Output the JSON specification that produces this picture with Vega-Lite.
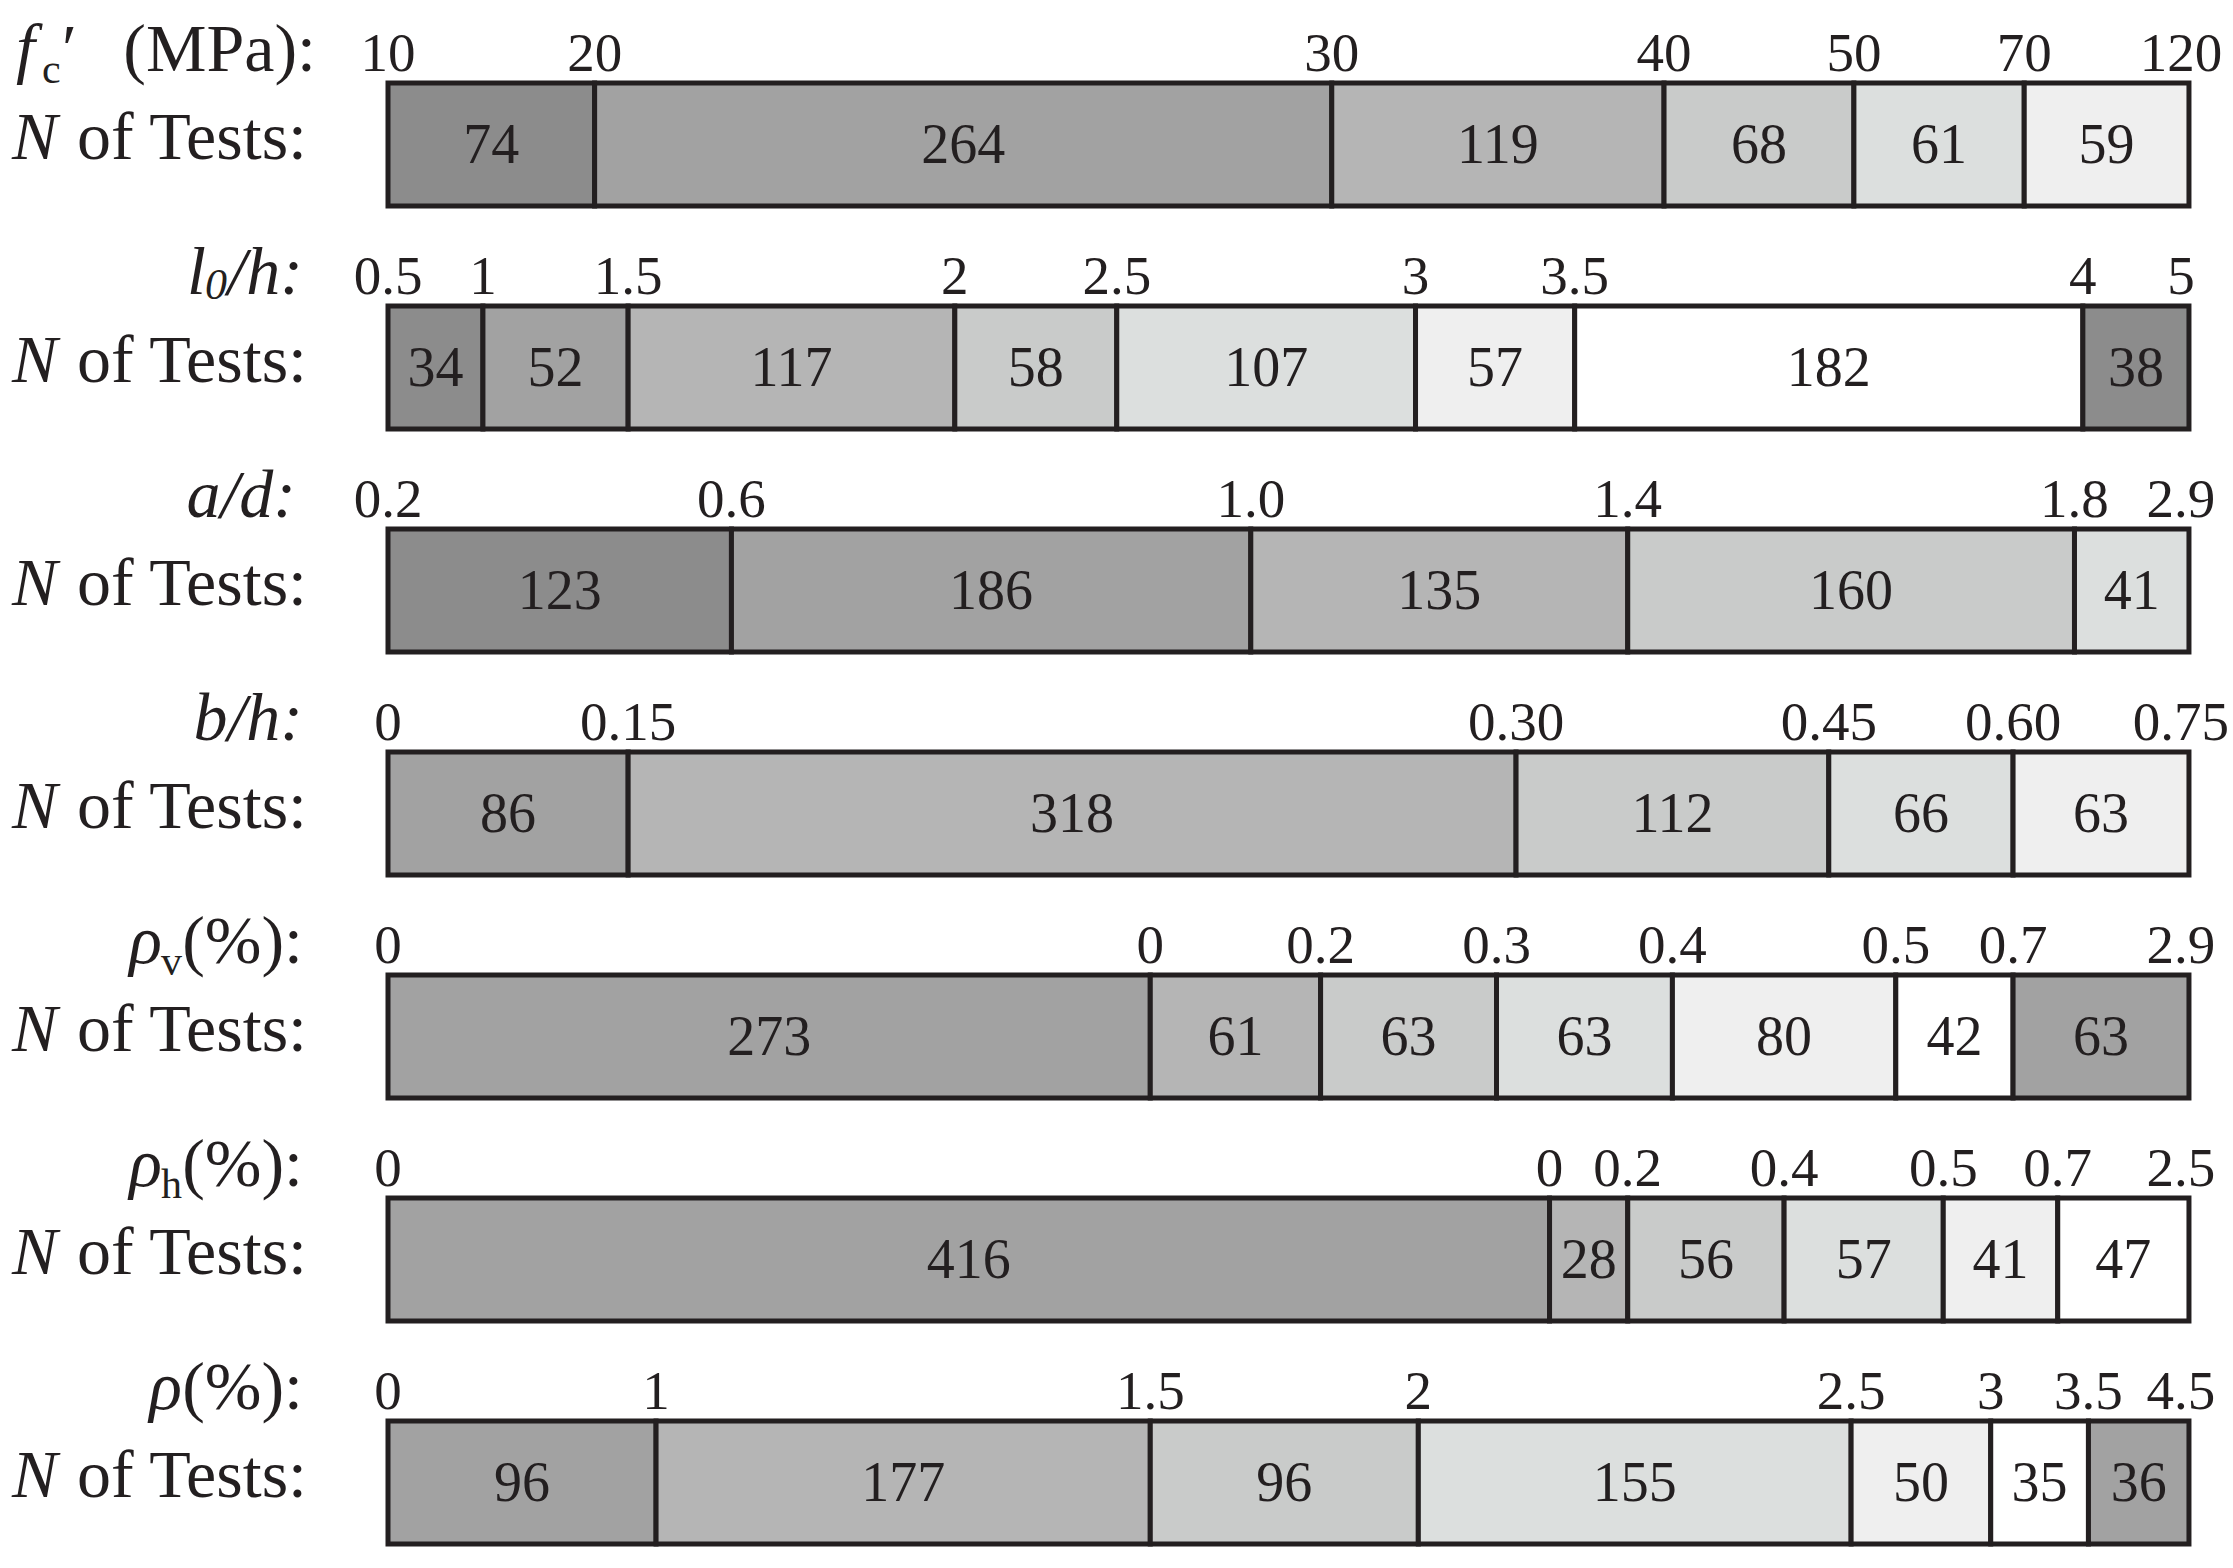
{
  "$schema": "https://vega.github.io/schema/vega-lite/v6.json",
  "width": 2233,
  "height": 1568,
  "padding": 0,
  "autosize": {"type": "none"},
  "background": "#ffffff",
  "config": {
    "view": {"stroke": null},
    "text": {"font": "Liberation Serif", "color": "#231f20"}
  },
  "datasets": {
    "seg": [
      {"row": 0, "seg": 0, "n": 74, "level": 1, "lo": "10"},
      {"row": 0, "seg": 1, "n": 264, "level": 2, "lo": "20"},
      {"row": 0, "seg": 2, "n": 119, "level": 3, "lo": "30"},
      {"row": 0, "seg": 3, "n": 68, "level": 4, "lo": "40"},
      {"row": 0, "seg": 4, "n": 61, "level": 5, "lo": "50"},
      {"row": 0, "seg": 5, "n": 59, "level": 6, "lo": "70", "hi": "120"},
      {"row": 1, "seg": 0, "n": 34, "level": 1, "lo": "0.5"},
      {"row": 1, "seg": 1, "n": 52, "level": 2, "lo": "1"},
      {"row": 1, "seg": 2, "n": 117, "level": 3, "lo": "1.5"},
      {"row": 1, "seg": 3, "n": 58, "level": 4, "lo": "2"},
      {"row": 1, "seg": 4, "n": 107, "level": 5, "lo": "2.5"},
      {"row": 1, "seg": 5, "n": 57, "level": 6, "lo": "3"},
      {"row": 1, "seg": 6, "n": 182, "level": 7, "lo": "3.5"},
      {"row": 1, "seg": 7, "n": 38, "level": 1, "lo": "4", "hi": "5"},
      {"row": 2, "seg": 0, "n": 123, "level": 1, "lo": "0.2"},
      {"row": 2, "seg": 1, "n": 186, "level": 2, "lo": "0.6"},
      {"row": 2, "seg": 2, "n": 135, "level": 3, "lo": "1.0"},
      {"row": 2, "seg": 3, "n": 160, "level": 4, "lo": "1.4"},
      {"row": 2, "seg": 4, "n": 41, "level": 5, "lo": "1.8", "hi": "2.9"},
      {"row": 3, "seg": 0, "n": 86, "level": 2, "lo": "0"},
      {"row": 3, "seg": 1, "n": 318, "level": 3, "lo": "0.15"},
      {"row": 3, "seg": 2, "n": 112, "level": 4, "lo": "0.30"},
      {"row": 3, "seg": 3, "n": 66, "level": 5, "lo": "0.45"},
      {"row": 3, "seg": 4, "n": 63, "level": 6, "lo": "0.60", "hi": "0.75"},
      {"row": 4, "seg": 0, "n": 273, "level": 2, "lo": "0"},
      {"row": 4, "seg": 1, "n": 61, "level": 3, "lo": "0"},
      {"row": 4, "seg": 2, "n": 63, "level": 4, "lo": "0.2"},
      {"row": 4, "seg": 3, "n": 63, "level": 5, "lo": "0.3"},
      {"row": 4, "seg": 4, "n": 80, "level": 6, "lo": "0.4"},
      {"row": 4, "seg": 5, "n": 42, "level": 7, "lo": "0.5"},
      {"row": 4, "seg": 6, "n": 63, "level": 2, "lo": "0.7", "hi": "2.9"},
      {"row": 5, "seg": 0, "n": 416, "level": 2, "lo": "0"},
      {"row": 5, "seg": 1, "n": 28, "level": 3, "lo": "0"},
      {"row": 5, "seg": 2, "n": 56, "level": 4, "lo": "0.2"},
      {"row": 5, "seg": 3, "n": 57, "level": 5, "lo": "0.4"},
      {"row": 5, "seg": 4, "n": 41, "level": 6, "lo": "0.5"},
      {"row": 5, "seg": 5, "n": 47, "level": 7, "lo": "0.7", "hi": "2.5"},
      {"row": 6, "seg": 0, "n": 96, "level": 2, "lo": "0"},
      {"row": 6, "seg": 1, "n": 177, "level": 3, "lo": "1"},
      {"row": 6, "seg": 2, "n": 96, "level": 4, "lo": "1.5"},
      {"row": 6, "seg": 3, "n": 155, "level": 5, "lo": "2"},
      {"row": 6, "seg": 4, "n": 50, "level": 6, "lo": "2.5"},
      {"row": 6, "seg": 5, "n": 35, "level": 7, "lo": "3"},
      {"row": 6, "seg": 6, "n": 36, "level": 2, "lo": "3.5", "hi": "4.5"}
    ],
    "lab": [
      {"row": 0, "piece": "f", "text": "f"},
      {"row": 0, "piece": "c", "text": "c"},
      {"row": 0, "piece": "prime", "text": "′"},
      {"row": 0, "piece": "mpa", "text": "(MPa):"},
      {"row": 1, "piece": "l", "text": "l"},
      {"row": 1, "piece": "zero", "text": "0"},
      {"row": 1, "piece": "ital85", "text": "/h:"},
      {"row": 2, "piece": "ital92", "text": "a/d:"},
      {"row": 3, "piece": "ital85", "text": "b/h:"},
      {"row": 4, "piece": "rhosub", "text": "ρ"},
      {"row": 4, "piece": "sub", "text": "v"},
      {"row": 4, "piece": "pct", "text": "(%):"},
      {"row": 5, "piece": "rhosub", "text": "ρ"},
      {"row": 5, "piece": "sub", "text": "h"},
      {"row": 5, "piece": "pct", "text": "(%):"},
      {"row": 6, "piece": "rho", "text": "ρ"},
      {"row": 6, "piece": "pct", "text": "(%):"}
    ],
    "ntests": [
      {"row": 0, "a": "N", "b": "of Tests:"},
      {"row": 1, "a": "N", "b": "of Tests:"},
      {"row": 2, "a": "N", "b": "of Tests:"},
      {"row": 3, "a": "N", "b": "of Tests:"},
      {"row": 4, "a": "N", "b": "of Tests:"},
      {"row": 5, "a": "N", "b": "of Tests:"},
      {"row": 6, "a": "N", "b": "of Tests:"}
    ]
  },
  "layer": [
    {
      "data": {"name": "seg"},
      "transform": [
        {"stack": "n", "groupby": ["row"], "sort": [{"field": "seg", "order": "ascending"}], "as": ["x0", "x1"]}
      ],
      "mark": {"type": "bar", "stroke": "#231f20", "strokeWidth": 5, "strokeJoin": "miter"},
      "encoding": {
        "x": {"field": "x0", "type": "quantitative", "scale": {"domain": [-138.96, 660.77], "nice": false, "zero": false}, "axis": null},
        "x2": {"field": "x1"},
        "y": {"field": "row", "type": "ordinal", "scale": {"type": "band", "domain": [0, 1, 2, 3, 4, 5, 6], "paddingInner": 0.448, "paddingOuter": 0.2397, "align": 0.776}, "axis": null},
        "color": {"field": "level", "type": "ordinal", "scale": {"domain": [1, 2, 3, 4, 5, 6, 7], "range": ["#8c8c8c", "#a2a2a2", "#b5b5b5", "#c9cbca", "#dcdfde", "#efefef", "#ffffff"]}, "legend": null}
      }
    },
    {
      "data": {"name": "seg"},
      "transform": [
        {"stack": "n", "groupby": ["row"], "sort": [{"field": "seg", "order": "ascending"}], "as": ["x0", "x1"]},
        {"calculate": "(datum.x0 + datum.x1) / 2", "as": "mid"}
      ],
      "mark": {"type": "text", "fontSize": 56, "align": "center", "baseline": "alphabetic", "dy": 18},
      "encoding": {
        "x": {"field": "mid", "type": "quantitative", "scale": {"domain": [-138.96, 660.77], "nice": false, "zero": false}, "axis": null},
        "y": {"field": "row", "type": "ordinal", "axis": null},
        "text": {"field": "n", "type": "quantitative"}
      }
    },
    {
      "data": {"name": "seg"},
      "transform": [
        {"stack": "n", "groupby": ["row"], "sort": [{"field": "seg", "order": "ascending"}], "as": ["x0", "x1"]}
      ],
      "mark": {"type": "text", "fontSize": 55, "align": "center", "baseline": "alphabetic", "dy": -12},
      "encoding": {
        "x": {"field": "x0", "type": "quantitative", "scale": {"domain": [-138.96, 660.77], "nice": false, "zero": false}, "axis": null},
        "y": {"field": "row", "type": "ordinal", "bandPosition": 0, "axis": null},
        "text": {"field": "lo", "type": "nominal"}
      }
    },
    {
      "data": {"name": "seg"},
      "transform": [
        {"stack": "n", "groupby": ["row"], "sort": [{"field": "seg", "order": "ascending"}], "as": ["x0", "x1"]},
        {"filter": "isValid(datum.hi)"}
      ],
      "mark": {"type": "text", "fontSize": 55, "align": "center", "baseline": "alphabetic", "dy": -12, "dx": -8},
      "encoding": {
        "x": {"field": "x1", "type": "quantitative", "scale": {"domain": [-138.96, 660.77], "nice": false, "zero": false}, "axis": null},
        "y": {"field": "row", "type": "ordinal", "bandPosition": 0, "axis": null},
        "text": {"field": "hi", "type": "nominal"}
      }
    },
    {
      "data": {"name": "ntests"},
      "mark": {"type": "text", "fontSize": 68, "fontStyle": "italic", "align": "left", "baseline": "alphabetic", "dx": -376, "dy": 14},
      "encoding": {
        "x": {"datum": 0, "type": "quantitative"},
        "y": {"field": "row", "type": "ordinal", "axis": null},
        "text": {"field": "a", "type": "nominal"}
      }
    },
    {
      "data": {"name": "ntests"},
      "mark": {"type": "text", "fontSize": 68, "align": "right", "baseline": "alphabetic", "dx": -81, "dy": 14},
      "encoding": {
        "x": {"datum": 0, "type": "quantitative"},
        "y": {"field": "row", "type": "ordinal", "axis": null},
        "text": {"field": "b", "type": "nominal"}
      }
    },
    {
      "data": {"name": "lab"},
      "transform": [{"filter": "datum.piece == 'f'"}],
      "mark": {"type": "text", "fontSize": 68, "fontStyle": "italic", "align": "left", "baseline": "alphabetic", "dx": -372, "dy": -12},
      "encoding": {
        "x": {"datum": 0, "type": "quantitative"},
        "y": {"field": "row", "type": "ordinal", "bandPosition": 0, "axis": null},
        "text": {"field": "text", "type": "nominal"}
      }
    },
    {
      "data": {"name": "lab"},
      "transform": [{"filter": "datum.piece == 'c'"}],
      "mark": {"type": "text", "fontSize": 42, "align": "left", "baseline": "alphabetic", "dx": -346, "dy": 0},
      "encoding": {
        "x": {"datum": 0, "type": "quantitative"},
        "y": {"field": "row", "type": "ordinal", "bandPosition": 0, "axis": null},
        "text": {"field": "text", "type": "nominal"}
      }
    },
    {
      "data": {"name": "lab"},
      "transform": [{"filter": "datum.piece == 'prime'"}],
      "mark": {"type": "text", "fontSize": 68, "align": "left", "baseline": "alphabetic", "dx": -326, "dy": -12},
      "encoding": {
        "x": {"datum": 0, "type": "quantitative"},
        "y": {"field": "row", "type": "ordinal", "bandPosition": 0, "axis": null},
        "text": {"field": "text", "type": "nominal"}
      }
    },
    {
      "data": {"name": "lab"},
      "transform": [{"filter": "datum.piece == 'mpa'"}],
      "mark": {"type": "text", "fontSize": 68, "align": "right", "baseline": "alphabetic", "dx": -72, "dy": -12},
      "encoding": {
        "x": {"datum": 0, "type": "quantitative"},
        "y": {"field": "row", "type": "ordinal", "bandPosition": 0, "axis": null},
        "text": {"field": "text", "type": "nominal"}
      }
    },
    {
      "data": {"name": "lab"},
      "transform": [{"filter": "datum.piece == 'l'"}],
      "mark": {"type": "text", "fontSize": 68, "fontStyle": "italic", "align": "right", "baseline": "alphabetic", "dx": -182, "dy": -12},
      "encoding": {
        "x": {"datum": 0, "type": "quantitative"},
        "y": {"field": "row", "type": "ordinal", "bandPosition": 0, "axis": null},
        "text": {"field": "text", "type": "nominal"}
      }
    },
    {
      "data": {"name": "lab"},
      "transform": [{"filter": "datum.piece == 'zero'"}],
      "mark": {"type": "text", "fontSize": 44, "fontStyle": "italic", "align": "right", "baseline": "alphabetic", "dx": -161, "dy": -7},
      "encoding": {
        "x": {"datum": 0, "type": "quantitative"},
        "y": {"field": "row", "type": "ordinal", "bandPosition": 0, "axis": null},
        "text": {"field": "text", "type": "nominal"}
      }
    },
    {
      "data": {"name": "lab"},
      "transform": [{"filter": "datum.piece == 'ital85'"}],
      "mark": {"type": "text", "fontSize": 68, "fontStyle": "italic", "align": "right", "baseline": "alphabetic", "dx": -85, "dy": -12},
      "encoding": {
        "x": {"datum": 0, "type": "quantitative"},
        "y": {"field": "row", "type": "ordinal", "bandPosition": 0, "axis": null},
        "text": {"field": "text", "type": "nominal"}
      }
    },
    {
      "data": {"name": "lab"},
      "transform": [{"filter": "datum.piece == 'ital92'"}],
      "mark": {"type": "text", "fontSize": 68, "fontStyle": "italic", "align": "right", "baseline": "alphabetic", "dx": -92, "dy": -12},
      "encoding": {
        "x": {"datum": 0, "type": "quantitative"},
        "y": {"field": "row", "type": "ordinal", "bandPosition": 0, "axis": null},
        "text": {"field": "text", "type": "nominal"}
      }
    },
    {
      "data": {"name": "lab"},
      "transform": [{"filter": "datum.piece == 'pct'"}],
      "mark": {"type": "text", "fontSize": 68, "align": "right", "baseline": "alphabetic", "dx": -85, "dy": -12},
      "encoding": {
        "x": {"datum": 0, "type": "quantitative"},
        "y": {"field": "row", "type": "ordinal", "bandPosition": 0, "axis": null},
        "text": {"field": "text", "type": "nominal"}
      }
    },
    {
      "data": {"name": "lab"},
      "transform": [{"filter": "datum.piece == 'sub'"}],
      "mark": {"type": "text", "fontSize": 42, "align": "right", "baseline": "alphabetic", "dx": -206, "dy": 0},
      "encoding": {
        "x": {"datum": 0, "type": "quantitative"},
        "y": {"field": "row", "type": "ordinal", "bandPosition": 0, "axis": null},
        "text": {"field": "text", "type": "nominal"}
      }
    },
    {
      "data": {"name": "lab"},
      "transform": [{"filter": "datum.piece == 'rhosub'"}],
      "mark": {"type": "text", "fontSize": 68, "fontStyle": "italic", "align": "right", "baseline": "alphabetic", "dx": -226, "dy": -12},
      "encoding": {
        "x": {"datum": 0, "type": "quantitative"},
        "y": {"field": "row", "type": "ordinal", "bandPosition": 0, "axis": null},
        "text": {"field": "text", "type": "nominal"}
      }
    },
    {
      "data": {"name": "lab"},
      "transform": [{"filter": "datum.piece == 'rho'"}],
      "mark": {"type": "text", "fontSize": 68, "fontStyle": "italic", "align": "right", "baseline": "alphabetic", "dx": -206, "dy": -12},
      "encoding": {
        "x": {"datum": 0, "type": "quantitative"},
        "y": {"field": "row", "type": "ordinal", "bandPosition": 0, "axis": null},
        "text": {"field": "text", "type": "nominal"}
      }
    }
  ]
}
